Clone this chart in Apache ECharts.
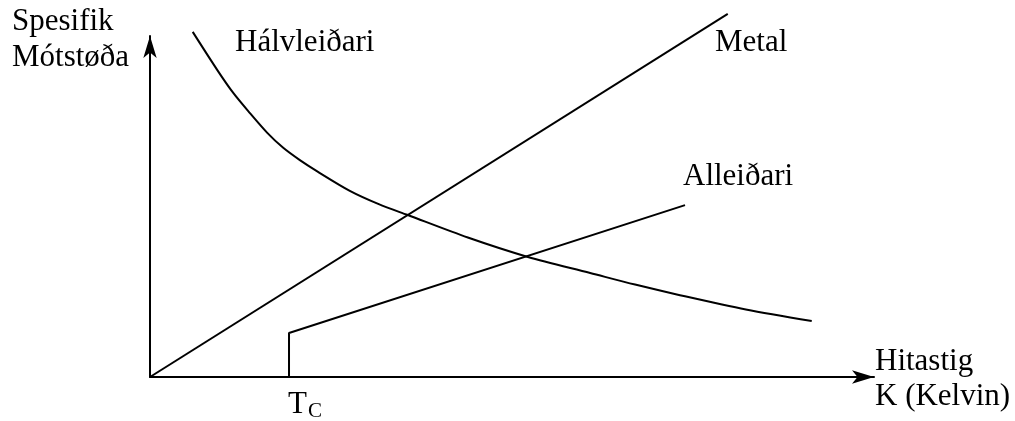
<!DOCTYPE html>
<html>
<head>
<meta charset="utf-8">
<title>Spesifik mótstøða og hitastig</title>
<script src="https://cdn.jsdelivr.net/npm/echarts@6/dist/echarts.min.js"></script>
<style>
  html, body { margin: 0; padding: 0; background: #fff; }
  #chart { width: 1015px; height: 421px; }
</style>
</head>
<body>
<div id="chart"></div>
<script>
// Schematic resistivity vs temperature (arbitrary units, 0–100 on both axes)
const metalX = [0, 79.8];
const metalY = [0, 106.5];

const halvX = [5.9, 9.3, 11.5, 13.8, 16.2, 18.4, 20.7, 23.1, 27.6, 31.6, 35.6, 43.9, 52.2, 60.8, 67.0, 73.2, 82.3, 91.4];
const halvY = [101.2, 90.0, 83.3, 77.4, 71.6, 67.2, 63.6, 60.3, 54.6, 50.7, 47.5, 40.9, 35.2, 30.5, 27.1, 24.0, 19.8, 16.4];

// Superconductor: zero below Tc, jump at Tc, then rising linearly
const tc = 19.2;
const allX = [tc, tc, 73.9];
const allY = [0, 12.9, 50.4];

const labels = {
  yName: ['Spesifik', 'Mótstøða'],
  xName: ['Hitastig', 'K (Kelvin)'],
  halv: 'Hálvleiðari',
  metal: 'Metal',
  all: 'Alleiðari',
  tc: ['T', 'C']
};

const zip = (xs, ys) => xs.map((x, i) => [x, ys[i]]);

const FONT = '"Liberation Serif", "Times New Roman", serif';
const big = '31px ' + FONT;
const small = '21px ' + FONT;

function txt(text, x, y, font) {
  return {
    type: 'text',
    x: x, y: y,
    silent: true,
    style: { text: text, font: font || big, fill: '#000', align: 'left', verticalAlign: 'middle' }
  };
}

const chart = echarts.init(document.getElementById('chart'), null, { renderer: 'canvas' });

const lineBase = {
  type: 'line',
  showSymbol: false,
  symbol: 'none',
  clip: false,
  lineStyle: { color: '#000', width: 2 },
  silent: true
};

chart.setOption({
  animation: false,
  backgroundColor: '#fff',
  grid: { left: 150, right: 141, top: 36, bottom: 44, containLabel: false },
  xAxis: {
    type: 'value', min: 0, max: 100,
    axisLine: { show: true, onZero: false, symbol: ['none', 'arrow'], symbolSize: [10, 22],
      lineStyle: { color: '#000', width: 2 } },
    axisTick: { show: false }, axisLabel: { show: false }, splitLine: { show: false }
  },
  yAxis: {
    type: 'value', min: 0, max: 100,
    axisLine: { show: true, onZero: false, symbol: ['none', 'arrow'], symbolSize: [10, 22],
      lineStyle: { color: '#000', width: 2 } },
    axisTick: { show: false }, axisLabel: { show: false }, splitLine: { show: false }
  },
  series: [
    Object.assign({}, lineBase, { name: labels.metal, data: zip(metalX, metalY) }),
    Object.assign({}, lineBase, { name: labels.halv, data: zip(halvX, halvY), smooth: 0.3 }),
    Object.assign({}, lineBase, { name: labels.all, data: zip(allX, allY) })
  ],
  graphic: [
    txt(labels.yName[0], 12, 22),
    txt(labels.yName[1], 12, 58),
    txt(labels.halv, 235, 43),
    txt(labels.metal, 715, 43),
    txt(labels.all, 683, 177),
    txt(labels.xName[0], 875, 362),
    txt(labels.xName[1], 875, 397),
    txt(labels.tc[0], 288, 405),
    txt(labels.tc[1], 308, 411, small)
  ]
});
</script>
</body>
</html>
